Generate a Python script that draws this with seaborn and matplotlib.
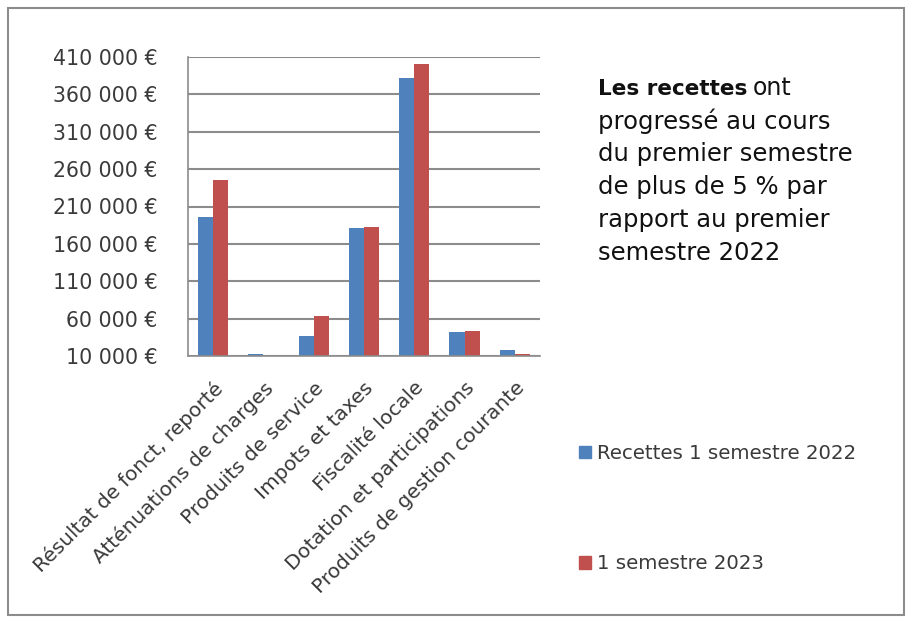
import matplotlib
matplotlib.use("Agg")
import matplotlib.pyplot as plt
import matplotlib.patches as mpatches
import seaborn as sns
import pandas as pd

categories = ["Résultat de fonct, reporté", "Atténuations de charges", "Produits de service",
              "Impots et taxes", "Fiscalité locale", "Dotation et participations",
              "Produits de gestion courante"]
recettes_2022 = [196000, 12500, 37000, 181000, 382000, 42500, 18000]
recettes_2023 = [245000, 10500, 63000, 183000, 400000, 43000, 13000]
series_names = ["Recettes 1 semestre 2022", "1 semestre 2023"]
colors = ["#4F81BD", "#C0504D"]
y_ticks = [10000, 60000, 110000, 160000, 210000, 260000, 310000, 360000, 410000]

df = pd.DataFrame({
    "categorie": categories * 2,
    "montant": recettes_2022 + recettes_2023,
    "serie": [series_names[0]] * len(categories) + [series_names[1]] * len(categories),
})

sns.set_style("white")
plt.rcParams["font.family"] = ["DejaVu Sans"]

fig = plt.figure(figsize=(9.09, 6.17), dpi=100)
ax = fig.add_axes([188 / 909, 1 - 356 / 617, 352 / 909, 299 / 617])

sns.barplot(data=df, x="categorie", y="montant", hue="serie", palette=colors,
            width=0.6, saturation=1, ax=ax, legend=False, edgecolor="none")

ax.set_ylim(10000, 410000)
ax.set_xlim(-0.5, 6.5)
ax.set_yticks(y_ticks)
ax.set_yticklabels([f"{v:,}".replace(",", " ") + " €" for v in y_ticks], fontsize=14.8,
                   color="#3a3a3a")
ax.set_xticks(range(len(categories)))
ax.set_xticklabels(categories, rotation=45, ha="right", rotation_mode="anchor", fontsize=14.5,
                   color="#3a3a3a")
ax.set_xticks([i - 0.5 for i in range(len(categories) + 1)], minor=True)
ax.tick_params(axis="x", which="major", length=0, pad=16)
ax.tick_params(axis="x", which="minor", length=4, color="#888888", direction="out")
ax.tick_params(axis="y", length=8, color="#888888", direction="out", pad=14)
ax.set_xlabel("")
ax.set_ylabel("")
ax.grid(axis="y", color="#8c8c8c", linewidth=1.5)
ax.set_axisbelow(True)
for side in ["top", "right"]:
    ax.spines[side].set_visible(False)
for side in ["left", "bottom"]:
    ax.spines[side].set_color("#8c8c8c")
    ax.spines[side].set_linewidth(1.2)

# annotation with bold start
t1 = fig.text(598 / 909, 1 - 95 / 617, "Les recettes", fontsize=15.5, fontweight="bold",
              va="baseline", ha="left", color="#111111")
fig.canvas.draw()
bb = t1.get_window_extent()
fig.text(bb.x1 / 909 + 5 / 909, 1 - 95 / 617, "ont", fontsize=17, va="baseline", ha="left",
         color="#111111")
fig.text(598 / 909, 1 - 108 / 617,
         "progressé au cours\ndu premier semestre\nde plus de 5 % par\nrapport au premier\nsemestre 2022",
         fontsize=17.5, va="top", ha="left", linespacing=1.47, color="#111111")

handles = [mpatches.Patch(color=c, label=n) for c, n in zip(colors, series_names)]
fig.legend(handles=handles, loc="upper left", bbox_to_anchor=(561 / 909, 1 - 426 / 617),
           frameon=False, fontsize=14.2, labelspacing=4.65, handlelength=0.6, handleheight=0.6,
           handletextpad=0.35, labelcolor="#3a3a3a")

fig.add_artist(mpatches.Rectangle((8 / 909, 0.004), 896 / 909, 1 - 0.004 - 8 / 617,
                                  transform=fig.transFigure, fill=False,
                                  edgecolor="#8c8c8c", linewidth=1.5))

fig.savefig("out.png", dpi=100)
plt.close(fig)
